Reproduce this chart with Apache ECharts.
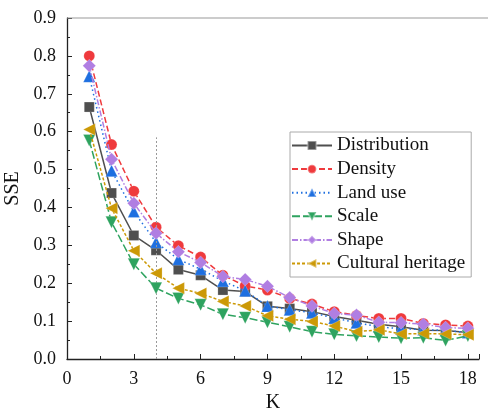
<!DOCTYPE html>
<html><head><meta charset="utf-8">
<script src="https://cdn.jsdelivr.net/npm/echarts@6/dist/echarts.min.js"></script>
<style>html,body{margin:0;padding:0;background:#fff}#c{width:488px;height:411px}</style>
</head><body><div id="c"></div>
<script>
var kValues = [1,2,3,4,5,6,7,8,9,10,11,12,13,14,15,16,17,18];
var seriesNames = ["Distribution","Density","Land use","Scale","Shape","Cultural heritage"];
var distribution = [0.665,0.438,0.326,0.287,0.236,0.221,0.182,0.178,0.139,0.133,0.125,0.112,0.102,0.092,0.085,0.076,0.075,0.070];
var density = [0.800,0.566,0.443,0.348,0.299,0.269,0.221,0.193,0.182,0.160,0.145,0.125,0.115,0.107,0.107,0.094,0.090,0.087];
var landUse = [0.746,0.497,0.389,0.308,0.263,0.237,0.206,0.180,0.140,0.130,0.122,0.108,0.096,0.085,0.080,0.078,0.075,0.070];
var scale = [0.577,0.361,0.250,0.187,0.160,0.143,0.118,0.109,0.097,0.085,0.072,0.065,0.061,0.058,0.055,0.056,0.049,0.061];
var shape = [0.774,0.527,0.411,0.332,0.283,0.255,0.218,0.210,0.192,0.162,0.140,0.120,0.116,0.097,0.096,0.092,0.083,0.081];
var cultural = [0.606,0.398,0.286,0.226,0.187,0.173,0.152,0.140,0.114,0.105,0.099,0.087,0.072,0.077,0.066,0.067,0.066,0.064];
var xTicks = [0,3,6,9,12,15,18];
var optimalK = 4, optimalTop = 0.585;

var FONT = '"Liberation Serif", "Times New Roman", serif';
function pairs(arr){ return kValues.map(function(k,i){ return [k, arr[i]]; }); }

var styles = [
  {data: distribution, color:'#4f4f4f', symbol:'rect', size:10, rotate:0, type:'solid'},
  {data: density, color:'#ef3a3d', symbol:'circle', size:11, rotate:0, type:[6,3]},
  {data: landUse, color:'#1e6fe0', symbol:'triangle', size:12, rotate:0, type:[1.5,3]},
  {data: scale, color:'#2ea35f', symbol:'triangle', size:12, rotate:180, type:[8,3]},
  {data: shape, color:'#b07ee2', symbol:'diamond', size:13, rotate:0, type:[6,2,1.5,2]},
  {data: cultural, color:'#cc9906', symbol:'triangle', size:12, rotate:90, type:[3,2]}
];

var series = styles.map(function(s, i){
  return {
    name: seriesNames[i], type:'line', data: pairs(s.data),
    symbol: s.symbol, symbolSize: s.size, symbolRotate: s.rotate,
    lineStyle: {color: s.color, width: 1.5, type: s.type},
    itemStyle: {color: s.color, borderColor: 'rgba(255,255,255,0.35)', borderWidth: 0.6},
    emphasis: {disabled: true}, animation: false, z: 2 + i
  };
});
series[0].markLine = {
  silent: true, symbol: ['none','none'], label: {show:false},
  lineStyle: {color:'#999', type:[2,2], width:1},
  data: [[{coord:[optimalK,0]},{coord:[optimalK,optimalTop]}]]
};

var chart = echarts.init(document.getElementById('c'), null, {renderer:'canvas'});
chart.setOption({
  animation: false,
  backgroundColor: '#fff',
  grid: {left: 67, top: 18, right: 9, bottom: 52, containLabel: false, outerBoundsMode: 'none'},
  graphic: [{type:'line', shape:{x1:67, y1:18, x2:488, y2:18}, style:{stroke:'#999', lineWidth:1}, z: 1}],
  xAxis: {
    type:'value', min:0, max:18.5, interval:3,
    name:'K', nameLocation:'middle', nameGap:31,
    nameTextStyle:{fontFamily:FONT, fontSize:20, color:'#111'},
    axisLine:{lineStyle:{color:'#222', width:1.3}},
    axisTick:{inside:true, length:5, lineStyle:{color:'#222'}},
    minorTick:{show:true, splitNumber:2, length:3, lineStyle:{color:'#222'}},
    splitLine:{show:false},
    axisLabel:{fontFamily:FONT, fontSize:18, color:'#111', margin:11, showMaxLabel:false,
      formatter:function(v){ return xTicks.indexOf(v) >= 0 ? String(v) : ''; }}
  },
  yAxis: {
    type:'value', min:0, max:0.9, interval:0.1,
    name:'SSE', nameLocation:'middle', nameGap:39,
    nameTextStyle:{fontFamily:FONT, fontSize:20, color:'#111'},
    axisLine:{show:true, lineStyle:{color:'#222', width:1.3}},
    axisTick:{show:true, inside:true, length:5, lineStyle:{color:'#222'}},
    minorTick:{show:true, splitNumber:2, length:3, lineStyle:{color:'#222'}},
    splitLine:{show:false},
    axisLabel:{fontFamily:FONT, fontSize:18, color:'#111', margin:11,
      formatter:function(v){ return v.toFixed(1); }}
  },
  legend: {
    orient:'vertical', left:290, top:132,
    backgroundColor:'#fff', borderColor:'#aaa', borderWidth:1, borderRadius:0,
    padding:[4,6,4,1], itemWidth:40, itemHeight:11, itemGap:4.6,
    textStyle:{fontFamily:FONT, fontSize:19, color:'#111', lineHeight:19},
    data: seriesNames
  },
  series: series
});
</script></body></html>
